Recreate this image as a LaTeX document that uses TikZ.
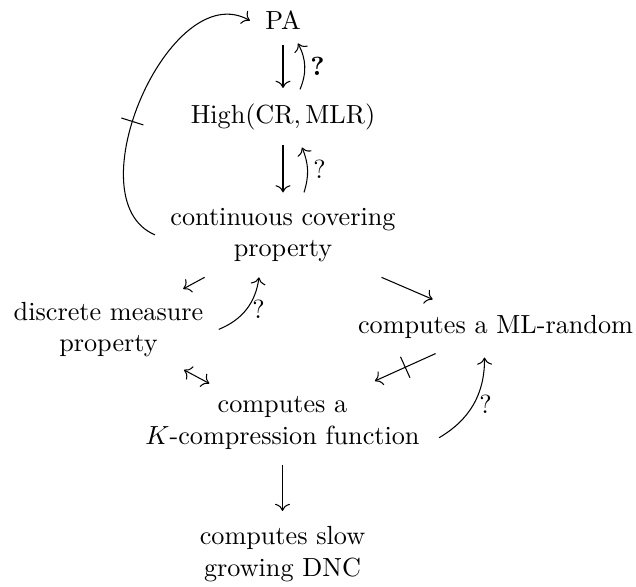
\documentclass[tikz,border=0pt]{standalone}
\usetikzlibrary{calc,decorations.markings,arrows.meta}
\tikzset{
  cell/.style={inner sep=5.7pt, align=center, anchor=base},
  lab/.style={inner sep=2pt},
  strike/.style={postaction={decorate}, decoration={markings, mark=at position #1 with {\draw[-] (0,-4.4pt) -- (0,4.4pt);}}},
}
\begin{document}
\begin{tikzpicture}[x=0.3817pt, y=-0.3817pt, >={Computer Modern Rightarrow[scale=1.1]}]
\useasboundingbox (0,0) rectangle (636,586);
\node[cell] (pa) at (283,30) {PA};
\node[cell] (high) at (283,123) {$\mathrm{High}(\mathrm{CR},\mathrm{MLR})$};
\node[cell] (ccp) at (283,256.5) {continuous covering\\property};
\node[cell] (dmp) at (108.5,351.5) {discrete measure\\property};
\node[cell] (ml) at (495.5,333) {computes a ML-random};
\node[cell] (kc) at (282.5,444) {computes a\\$K$-compression function};
\node[cell] (dnc) at (282.5,576) {computes slow\\growing DNC};

\draw[->] (pa) -- (high);
\draw[->] ($(high.north)+(17,1.5)$) to[bend right=25] node[lab,right]{\textbf{?}} ($(pa.south)+(15,-2)$);
\draw[->] (high) -- (ccp);
\draw[->] ($(ccp.north)+(21,0)$) to[bend right=20] node[lab,right]{?} ($(high.south)+(19,2.5)$);
\draw[->, strike=0.42] (ccp.west) .. controls (72,200) and (170,-25) .. (pa.west);
\draw[->, shorten >=-2pt] (ccp) -- (dmp);
\draw[->] (dmp.east) to[bend right=30] node[lab,right]{?} ($(ccp.south)+(-24,0)$);
\draw[->] (ccp) -- (ml);
\draw[->, strike=0.5] (ml) -- (kc);
\draw[<->, shorten <=-2pt, shorten >=-2pt] (dmp) -- (kc);
\draw[->] ($(kc.east)+(4,15)$) to[bend right=30] node[lab,right]{?} ($(ml.south)+(-11,4)$);
\draw[->] (kc) -- (dnc);
\end{tikzpicture}
\end{document}
